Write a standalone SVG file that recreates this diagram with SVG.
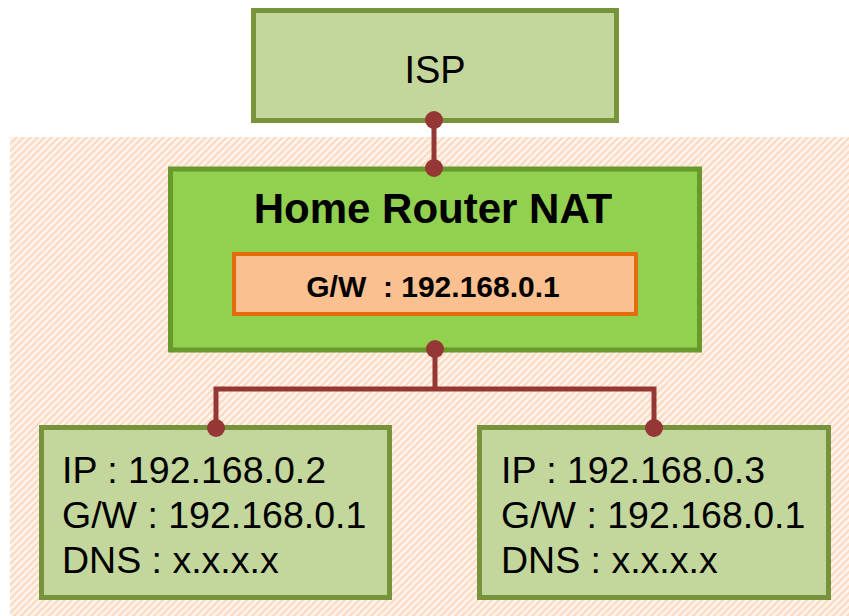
<svg xmlns="http://www.w3.org/2000/svg" width="849" height="616" viewBox="0 0 849 616">
  <defs>
    <pattern id="hatch" width="7" height="7" patternUnits="userSpaceOnUse">
      <rect width="7" height="7" fill="#FEF3EC"/>
      <path d="M-2,2 L2,-2 M0,7 L7,0 M5,9 L9,5" stroke="#FCD9BC" stroke-width="2"/>
    </pattern>
  </defs>
  <style>
    .lt { fill: #C3D69B; stroke: #77933C; stroke-width: 5; }
    .rt { fill: #92D050; stroke: #679A2B; stroke-width: 5; }
    .gw { fill: #FAC090; stroke: #E46C0A; stroke-width: 4; }
    .t { font-family: "Liberation Sans", Arial, sans-serif; fill: #000; }
    .conn { stroke: #953735; stroke-width: 5; fill: none; }
    .dot { fill: #953735; }
  </style>
  <rect x="10" y="137" width="839" height="479" fill="url(#hatch)"/>

  <g id="isp">
    <rect class="lt" x="253.5" y="10.5" width="363" height="110"/>
    <text class="t" x="435" y="83" font-size="38" text-anchor="middle">ISP</text>
  </g>

  <g id="router">
    <rect class="rt" x="170.5" y="169" width="529" height="181"/>
    <text class="t" x="433" y="223" font-size="42" font-weight="bold" text-anchor="middle">Home Router NAT</text>
    <rect class="gw" x="234" y="254" width="402" height="60"/>
    <text class="t" x="433" y="297" font-size="30" font-weight="bold" text-anchor="middle" xml:space="preserve">G/W  : 192.168.0.1</text>
  </g>

  <g id="host1">
    <rect class="lt" x="41.5" y="427.5" width="348" height="170"/>
    <text class="t" font-size="37.5">
      <tspan x="62" y="483">IP : 192.168.0.2</tspan>
      <tspan x="62" y="528">G/W : 192.168.0.1</tspan>
      <tspan x="62" y="573">DNS : x.x.x.x</tspan>
    </text>
  </g>

  <g id="host2">
    <rect class="lt" x="479.5" y="427.5" width="349" height="170"/>
    <text class="t" font-size="37.5">
      <tspan x="501" y="483">IP : 192.168.0.3</tspan>
      <tspan x="501" y="528">G/W : 192.168.0.1</tspan>
      <tspan x="501" y="573">DNS : x.x.x.x</tspan>
    </text>
  </g>

  <g id="connectors">
    <line class="conn" x1="434" y1="120" x2="434" y2="168"/>
    <circle class="dot" cx="434" cy="120" r="9"/>
    <circle class="dot" cx="434" cy="168" r="9"/>
    <polyline class="conn" points="216,428 216,389 654,389 654,428"/>
    <line class="conn" x1="435" y1="349" x2="435" y2="389"/>
    <circle class="dot" cx="435" cy="349" r="9"/>
    <circle class="dot" cx="216" cy="428" r="9"/>
    <circle class="dot" cx="654" cy="428" r="9"/>
  </g>
</svg>
